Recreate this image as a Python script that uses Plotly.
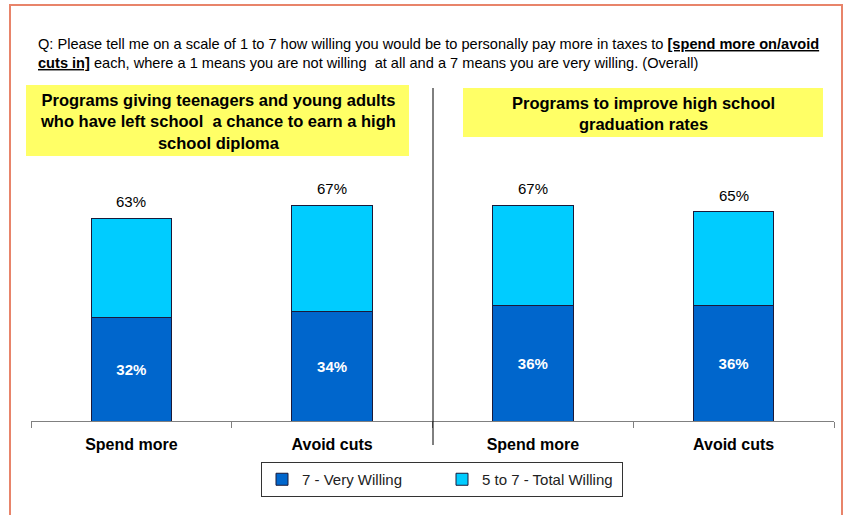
import plotly.graph_objects as go

# Survey results: share willing to pay more in taxes
categories = ["A_spend", "A_avoid", "B_spend", "B_avoid"]
category_labels = ["Spend more", "Avoid cuts", "Spend more", "Avoid cuts"]
very_willing = [32, 34, 36, 36]      # 7 - Very Willing
total_willing = [63, 67, 67, 65]     # 5 to 7 - Total Willing
rest_of_total = [t - v for t, v in zip(total_willing, very_willing)]

program_titles = [
    "Programs giving teenagers and young adults<br>who have left school  a chance to earn a high<br>school diploma",
    "Programs to improve high school<br>graduation rates",
]

FONT = "Liberation Sans, Arial, Helvetica, sans-serif"
DARK = "#0066CC"
LIGHT = "#00CCFF"
W, H = 845, 515
L, R, T, B = 31, 11, 99, 94
PW = W - L - R
PH = H - T - B


def px_x(px):
    return (px - L) / PW


def px_y(py):
    return (H - B - py) / PH


fig = go.Figure()
fig.add_trace(go.Bar(
    x=categories, y=very_willing, name="7 - Very Willing",
    marker=dict(color=DARK, line=dict(color="#1a1a3a", width=1)),
    width=0.40,
    text=[f"{v}%" for v in very_willing], textposition="inside",
    insidetextanchor="middle", textangle=0,
    textfont=dict(family=FONT, size=15, color="white", weight="bold"),
))
fig.add_trace(go.Bar(
    x=categories, y=rest_of_total, name="5 to 7 - Total Willing",
    marker=dict(color=LIGHT, line=dict(color="#1a1a3a", width=1)),
    width=0.40, hoverinfo="skip",
))

# Totals above each stack
for c, t in zip(categories, total_willing):
    fig.add_annotation(x=c, y=t, text=f"{t}%", showarrow=False,
                       xanchor="center", yanchor="bottom", yshift=6,
                       font=dict(family=FONT, size=15, color="black"))

# Outer frame
fig.add_shape(type="rect", xref="paper", yref="paper",
              x0=px_x(10), x1=px_x(842), y0=px_y(530), y1=px_y(5),
              line=dict(color="#E8846A", width=2), fillcolor="rgba(0,0,0,0)")

# Divider between the two programs
fig.add_shape(type="line", xref="paper", yref="paper",
              x0=px_x(433), x1=px_x(433), y0=px_y(445), y1=px_y(88),
              line=dict(color="black", width=1))

# Program title boxes
boxes = [(26, 409, 85, 156), (463, 823, 88, 137)]
for (x0, x1, y0, y1), title in zip(boxes, program_titles):
    fig.add_shape(type="rect", xref="paper", yref="paper",
                  x0=px_x(x0), x1=px_x(x1), y0=px_y(y1), y1=px_y(y0),
                  line=dict(width=0), fillcolor="#FFFF66", layer="below")
    fig.add_annotation(xref="paper", yref="paper",
                       x=px_x((x0 + x1) / 2), y=px_y((y0 + y1) / 2 + 1),
                       xanchor="center", yanchor="middle",
                       text=f"<b>{title}</b>", showarrow=False,
                       font=dict(family=FONT, size=16.5, color="black"))

# Question text
question = ("Q: Please tell me on a scale of 1 to 7 how willing you would be to personally pay more in taxes to "
            "<b><u>[spend more on/avoid</u></b><br><b><u>cuts in]</u></b> each, where a 1 means you are not "
            "willing  at all and a 7 means you are very willing. (Overall)")
fig.add_annotation(xref="paper", yref="paper", x=px_x(36), y=px_y(34),
                   xanchor="left", yanchor="top", align="left",
                   text=question, showarrow=False,
                   font=dict(family=FONT, size=14.6, color="black"))

fig.update_layout(
    width=W, height=H,
    margin=dict(l=L, r=R, t=T, b=B),
    barmode="stack",
    plot_bgcolor="white", paper_bgcolor="white",
    font=dict(family=FONT, color="black"),
    showlegend=True,
    legend=dict(orientation="h", x=px_x(442), xanchor="center",
                y=px_y(462), yanchor="top",
                bordercolor="#333333", borderwidth=1,
                font=dict(family=FONT, size=15, color="#222222"),
                entrywidth=135, traceorder="normal"),
    xaxis=dict(
        type="category", categoryarray=categories,
        tickvals=categories, ticktext=category_labels,
        tickson="boundaries", ticks="outside", ticklen=6, tickcolor="#808080",
        showline=True, linecolor="#808080", linewidth=1,
        showgrid=False, zeroline=False,
        range=[-0.5, 3.5],
        tickfont=dict(family=FONT, size=16, color="black", weight="bold"),
        ticklabelstandoff=9,
    ),
    yaxis=dict(range=[0, 100], visible=False, showgrid=False, zeroline=False),
)

fig.write_html("out.html")
